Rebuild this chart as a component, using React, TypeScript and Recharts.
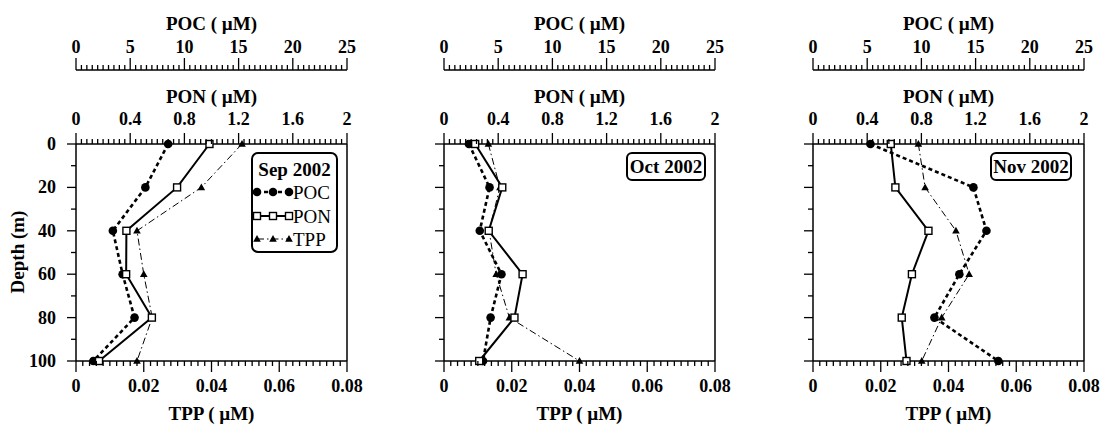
import React from 'react';
import { LineChart, Line, XAxis, YAxis, ReferenceLine, Customized } from 'recharts';

const depths = [0, 20, 40, 60, 80, 100];
const monthLabels = ['Sep 2002', 'Oct 2002', 'Nov 2002'];
const seriesNames = ['POC', 'PON', 'TPP'];

const pocSep = [8.5, 6.4, 3.4, 4.3, 5.4, 1.6];
const ponSep = [0.985, 0.746, 0.372, 0.37, 0.56, 0.17];
const tppSep = [0.049, 0.037, 0.018, 0.02, 0.0225, 0.018];

const pocOct = [2.3, 4.2, 3.3, 5.3, 4.3, 3.6];
const ponOct = [0.23, 0.43, 0.33, 0.58, 0.52, 0.26];
const tppOct = [0.0131, 0.0165, 0.0133, 0.0154, 0.0193, 0.04];

const pocNov = [5.3, 14.8, 16.0, 13.5, 11.2, 17.1];
const ponNov = [0.574, 0.608, 0.852, 0.73, 0.655, 0.69];
const tppNov = [0.0311, 0.0331, 0.0422, 0.0461, 0.038, 0.0321];

const pocTicks = [0, 5, 10, 15, 20, 25];
const ponTicks = [0, 0.4, 0.8, 1.2, 1.6, 2];
const tppTicks = [0, 0.02, 0.04, 0.06, 0.08];
const depthTicks = [0, 20, 40, 60, 80, 100];

const FONT = "'Liberation Serif', 'Times New Roman', Times, serif";

function withMinor(majors: number[], sub: number): number[] {
  const out: number[] = [];
  for (let i = 0; i < majors.length - 1; i++) {
    const a = majors[i];
    const b = majors[i + 1];
    for (let k = 0; k < sub; k++) out.push(a + ((b - a) * k) / sub);
  }
  out.push(majors[majors.length - 1]);
  return out;
}

function findMajor(majors: number[], v: number) {
  return majors.find((m) => Math.abs(m - v) < 1e-9);
}

const TICK_MARGIN = 4;

function makeXTick(orientation: 'top' | 'bottom', majors: number[], labelOffset: number, majorLen: number) {
  return (props: any) => {
    const { x, y, payload } = props;
    const m = findMajor(majors, payload.value);
    const isMajor = m !== undefined;
    const axisY = orientation === 'top' ? y + TICK_MARGIN : y - TICK_MARGIN;
    const dir = orientation === 'top' ? -1 : 1;
    const len = isMajor ? majorLen : 5;
    return (
      <g>
        <line x1={x} x2={x} y1={axisY} y2={axisY + dir * len} stroke="#000" strokeWidth={1.3} />
        {isMajor && (
          <text
            x={x}
            y={axisY + labelOffset}
            textAnchor="middle"
            fontFamily={FONT}
            fontWeight="bold"
            fontSize={18}
            fill="#000"
          >
            {String(m)}
          </text>
        )}
      </g>
    );
  };
}

function makeYTick(showLabels: boolean) {
  return (props: any) => {
    const { x, y, payload } = props;
    const m = findMajor(depthTicks, payload.value);
    const isMajor = m !== undefined;
    const axisX = x + TICK_MARGIN;
    const len = isMajor ? 9 : 5;
    return (
      <g>
        <line x1={axisX - len} x2={axisX} y1={y} y2={y} stroke="#000" strokeWidth={1.3} />
        {isMajor && showLabels && (
          <text x={axisX - 20} y={y + 6} textAnchor="end" fontFamily={FONT} fontWeight="bold" fontSize={18} fill="#000">
            {String(m)}
          </text>
        )}
      </g>
    );
  };
}

const PocDot = (props: any) => {
  const { cx, cy, key } = props;
  if (cx == null || cy == null) return <g key={key} />;
  return <circle key={key} cx={cx} cy={cy} r={4.3} fill="#000" />;
};
const PonDot = (props: any) => {
  const { cx, cy, key } = props;
  if (cx == null || cy == null) return <g key={key} />;
  return <rect key={key} x={cx - 3.5} y={cy - 3.5} width={7} height={7} fill="#fff" stroke="#000" strokeWidth={1.4} />;
};
const TppDot = (props: any) => {
  const { cx, cy, key } = props;
  if (cx == null || cy == null) return <g key={key} />;
  return <polygon key={key} points={`${cx},${cy - 4} ${cx - 3.8},${cy + 2.8} ${cx + 3.8},${cy + 2.8}`} fill="#000" />;
};

const PLOT_LEFT = 76;
const PLOT_W = 271;
const RIGHT_M = 17;
const CHART_W = PLOT_LEFT + PLOT_W + RIGHT_M;
const CHART_H = 425;
const TITLE_CX = PLOT_LEFT + PLOT_W / 2;

const POC_STYLE = { stroke: '#000', strokeWidth: 2.6, strokeDasharray: '4 3' };
const PON_STYLE = { stroke: '#000', strokeWidth: 2 };
const TPP_STYLE = { stroke: '#000', strokeWidth: 1, strokeDasharray: '7 3 1.5 3' };

const Titles = ({ showDepth }: { showDepth: boolean }) => (
  <g fontFamily={FONT} fontWeight="bold" fontSize={19} fill="#000">
    <text x={TITLE_CX} y={30} textAnchor="middle">POC ( µM)</text>
    <text x={TITLE_CX} y={103} textAnchor="middle">PON ( µM)</text>
    <text x={TITLE_CX} y={420} textAnchor="middle">TPP ( µM)</text>
    {showDepth && (
      <text transform="translate(24,252) rotate(-90)" textAnchor="middle">Depth (m)</text>
    )}
  </g>
);

const FullLegend = ({ month }: { month: string }) => {
  const bx = 252;
  const by = 153;
  const rows = [192, 216, 239];
  const xs = [257, 273, 289];
  return (
    <g>
      <rect x={bx} y={by} width={85} height={99} rx={6} ry={6} fill="#fff" stroke="#000" strokeWidth={2} />
      <text x={bx + 42.5} y={175.5} textAnchor="middle" fontFamily={FONT} fontWeight="bold" fontSize={19} fill="#000">
        {month}
      </text>
      {seriesNames.map((name, i) => {
        const y = rows[i];
        const style = i === 0 ? POC_STYLE : i === 1 ? PON_STYLE : TPP_STYLE;
        return (
          <g key={name}>
            <line x1={xs[0]} x2={xs[2]} y1={y} y2={y} {...style} />
            {xs.map((x, j) =>
              i === 0 ? (
                <PocDot key={j} cx={x} cy={y} />
              ) : i === 1 ? (
                <PonDot key={j} cx={x} cy={y} />
              ) : (
                <TppDot key={j} cx={x} cy={y} />
              ),
            )}
            <text x={293} y={y + 6.5} fontFamily={FONT} fontSize={19} fill="#000">
              {name}
            </text>
          </g>
        );
      })}
    </g>
  );
};

const MonthBox = ({ month, x, w }: { month: string; x: number; w: number }) => (
  <g>
    <rect x={x} y={153} width={w} height={27} rx={5} ry={5} fill="#fff" stroke="#000" strokeWidth={2} />
    <text x={x + w / 2} y={173} textAnchor="middle" fontFamily={FONT} fontWeight="bold" fontSize={19} fill="#000">
      {month}
    </text>
  </g>
);

const pocTickList = withMinor(pocTicks, 10);
const ponTickList = withMinor(ponTicks, 10);
const tppTickList = withMinor(tppTicks, 10);
const depthTickList = withMinor(depthTicks, 2);

const pocTickFn = makeXTick('top', pocTicks, -17, 12);
const ponTickFn = makeXTick('top', ponTicks, -19, 11);
const tppTickFn = makeXTick('bottom', tppTicks, 31, 11);

// axis ids are ordered so that the PON axis sits next to the plot and POC above it
const PON_AXIS = 'a_pon';
const POC_AXIS = 'b_poc';

function Panel({ poc, pon, tpp, idx }: { poc: number[]; pon: number[]; tpp: number[]; idx: number }) {
  const data = depths.map((d, i) => ({ depth: d, poc: poc[i], pon: pon[i], tpp: tpp[i] }));
  const axisLine = { stroke: '#000', strokeWidth: 1.5 };
  return (
    <LineChart
      width={CHART_W}
      height={CHART_H}
      data={data}
      layout="vertical"
      margin={{ top: 0, right: RIGHT_M, bottom: 0, left: 0 }}
    >
      <XAxis
        xAxisId={PON_AXIS}
        type="number"
        orientation="top"
        domain={[0, 2]}
        ticks={ponTickList}
        interval={0}
        height={74}
        tickSize={0}
        tickMargin={TICK_MARGIN}
        tickLine={false}
        axisLine={axisLine}
        tick={ponTickFn}
      />
      <XAxis
        xAxisId={POC_AXIS}
        type="number"
        orientation="top"
        domain={[0, 25]}
        ticks={pocTickList}
        interval={0}
        height={70}
        tickSize={0}
        tickMargin={TICK_MARGIN}
        tickLine={false}
        axisLine={axisLine}
        tick={pocTickFn}
      />
      <XAxis
        xAxisId="tpp"
        type="number"
        orientation="bottom"
        domain={[0, 0.08]}
        ticks={tppTickList}
        interval={0}
        height={64}
        tickSize={0}
        tickMargin={TICK_MARGIN}
        tickLine={false}
        axisLine={axisLine}
        tick={tppTickFn}
      />
      <YAxis
        type="number"
        dataKey="depth"
        domain={[0, 100]}
        ticks={depthTickList}
        interval={0}
        width={PLOT_LEFT}
        tickSize={0}
        tickMargin={TICK_MARGIN}
        tickLine={false}
        axisLine={axisLine}
        tick={makeYTick(idx === 0)}
      />
      <ReferenceLine xAxisId="tpp" x={0.08} stroke="#000" strokeWidth={1.5} />
      <Line
        xAxisId="tpp"
        dataKey="tpp"
        {...TPP_STYLE}
        fill="#000"
        dot={TppDot}
        activeDot={false}
        isAnimationActive={false}
      />
      <Line
        xAxisId={POC_AXIS}
        dataKey="poc"
        {...POC_STYLE}
        dot={PocDot}
        activeDot={false}
        isAnimationActive={false}
      />
      <Line
        xAxisId={PON_AXIS}
        dataKey="pon"
        {...PON_STYLE}
        dot={PonDot}
        activeDot={false}
        isAnimationActive={false}
      />
      <Customized component={<Titles showDepth={idx === 0} />} />
      {idx === 0 && <Customized component={<FullLegend month={monthLabels[0]} />} />}
      {idx === 1 && <Customized component={<MonthBox month={monthLabels[1]} x={259} w={78} />} />}
      {idx === 2 && <Customized component={<MonthBox month={monthLabels[2]} x={254} w={80} />} />}
    </LineChart>
  );
}

const panelLefts = [0, 368, 737];

export default function App() {
  const sets = [
    { poc: pocSep, pon: ponSep, tpp: tppSep },
    { poc: pocOct, pon: ponOct, tpp: tppOct },
    { poc: pocNov, pon: ponNov, tpp: tppNov },
  ];
  return (
    <div style={{ position: 'absolute', left: 0, top: 0, width: 1101, height: 425, background: '#fff', overflow: 'hidden' }}>
      {sets.map((s, i) => (
        <div key={i} style={{ position: 'absolute', left: panelLefts[i], top: 0 }}>
          <Panel poc={s.poc} pon={s.pon} tpp={s.tpp} idx={i} />
        </div>
      ))}
    </div>
  );
}
